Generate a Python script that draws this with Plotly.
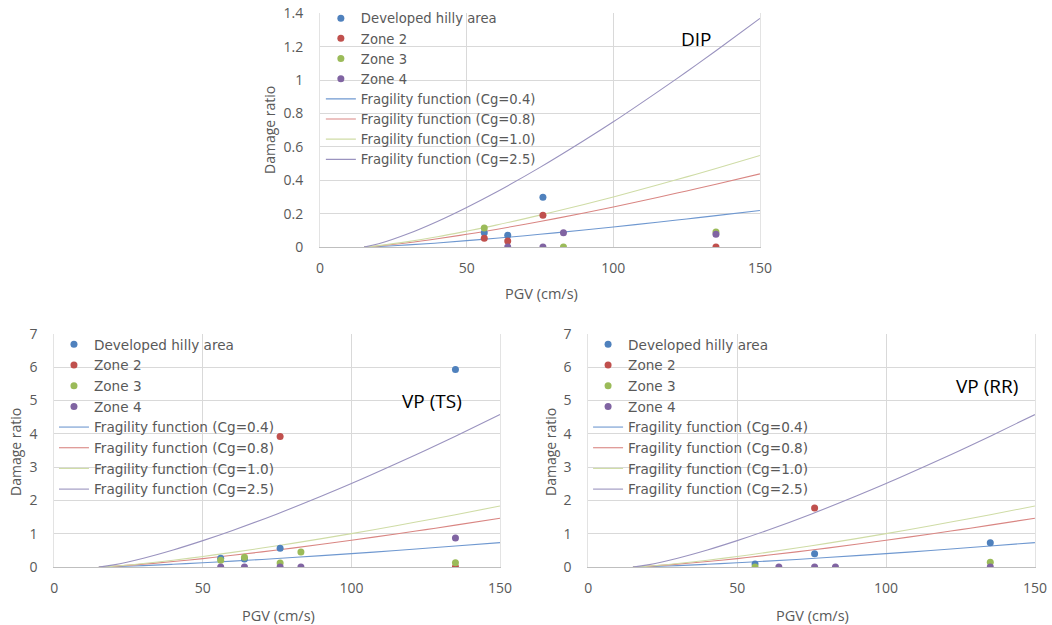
import plotly.graph_objects as go

# ---------------- data ----------------
pgv_curve = [15, 20, 30, 40, 50, 60, 75, 90, 100, 115, 125, 135, 150]

dip_cg04 = [0, 0.003, 0.013, 0.024, 0.038, 0.052, 0.076, 0.102, 0.12, 0.148, 0.168, 0.188, 0.219]
dip_cg08 = [0, 0.006, 0.025, 0.049, 0.076, 0.105, 0.153, 0.204, 0.24, 0.297, 0.336, 0.376, 0.438]
dip_cg10 = [0, 0.008, 0.032, 0.061, 0.095, 0.131, 0.191, 0.255, 0.30, 0.371, 0.42, 0.47, 0.548]
dip_cg25 = [0, 0.019, 0.079, 0.153, 0.237, 0.328, 0.477, 0.638, 0.75, 0.928, 1.05, 1.176, 1.37]

vp_cg04 = [0, 0.01, 0.042, 0.082, 0.127, 0.176, 0.255, 0.341, 0.401, 0.496, 0.562, 0.629, 0.733]
vp_cg08 = [0, 0.02, 0.085, 0.164, 0.253, 0.351, 0.51, 0.683, 0.802, 0.993, 1.123, 1.258, 1.466]
vp_cg10 = [0, 0.025, 0.106, 0.204, 0.317, 0.439, 0.638, 0.853, 1.003, 1.241, 1.404, 1.572, 1.832]
vp_cg25 = [0, 0.063, 0.264, 0.511, 0.792, 1.097, 1.595, 2.133, 2.507, 3.102, 3.51, 3.931, 4.58]

# DIP observations
dip_dev_x = [56, 64, 76]
dip_dev_y = [0.086, 0.07, 0.298]
dip_z2_x = [56, 64, 76, 135]
dip_z2_y = [0.052, 0.036, 0.19, 0.0]
dip_z3_x = [56, 83, 135]
dip_z3_y = [0.114, 0.0, 0.09]
dip_z4_x = [64, 76, 83, 135]
dip_z4_y = [0.0, 0.0, 0.086, 0.076]

# VP (TS) observations
ts_dev_x = [56, 64, 76, 135]
ts_dev_y = [0.26, 0.24, 0.56, 5.93]
ts_z2_x = [76, 135]
ts_z2_y = [3.92, 0.0]
ts_z3_x = [56, 64, 76, 83, 135]
ts_z3_y = [0.2, 0.29, 0.12, 0.45, 0.13]
ts_z4_x = [56, 64, 76, 83, 135]
ts_z4_y = [0.0, 0.0, 0.0, 0.0, 0.87]

# VP (RR) observations
rr_dev_x = [56, 76, 135]
rr_dev_y = [0.09, 0.4, 0.73]
rr_z2_x = [76]
rr_z2_y = [1.77]
rr_z3_x = [56, 135]
rr_z3_y = [0.0, 0.14]
rr_z4_x = [64, 76, 83, 135]
rr_z4_y = [0.0, 0.0, 0.0, 0.0]

series_names = ["Developed hilly area", "Zone 2", "Zone 3", "Zone 4"]
curve_names = ["Fragility function (Cg=0.4)", "Fragility function (Cg=0.8)",
               "Fragility function (Cg=1.0)", "Fragility function (Cg=2.5)"]
panel_labels = ["DIP", "VP (TS)", "VP (RR)"]
x_ticks = [0, 50, 100, 150]

# ---------------- style ----------------
dot_colors = ["#4F81BD", "#C0504D", "#9BBB59", "#8064A2"]
line_colors = ["#6f98d0", "#d98683", "#cfdca6", "#9a93bf"]
FONT = "Open Sans, sans-serif"
LEGFONT = "DejaVu Sans, sans-serif"
GRAY = "#595959"

fig = go.Figure()

panels = [
    dict(xa="x", ya="y", leg="legend",
         curves=[dip_cg04, dip_cg08, dip_cg10, dip_cg25],
         obs=[(dip_dev_x, dip_dev_y), (dip_z2_x, dip_z2_y), (dip_z3_x, dip_z3_y), (dip_z4_x, dip_z4_y)]),
    dict(xa="x2", ya="y2", leg="legend2",
         curves=[vp_cg04, vp_cg08, vp_cg10, vp_cg25],
         obs=[(ts_dev_x, ts_dev_y), (ts_z2_x, ts_z2_y), (ts_z3_x, ts_z3_y), (ts_z4_x, ts_z4_y)]),
    dict(xa="x3", ya="y3", leg="legend3",
         curves=[vp_cg04, vp_cg08, vp_cg10, vp_cg25],
         obs=[(rr_dev_x, rr_dev_y), (rr_z2_x, rr_z2_y), (rr_z3_x, rr_z3_y), (rr_z4_x, rr_z4_y)]),
]

for p in panels:
    for i, (name, ys) in enumerate(zip(curve_names, p["curves"])):
        fig.add_trace(go.Scatter(
            x=pgv_curve, y=ys, mode="lines", name=name,
            line=dict(color=line_colors[i], width=1.1, shape="spline"),
            xaxis=p["xa"], yaxis=p["ya"], legend=p["leg"], legendrank=10 + i,
        ))
    for i, (name, (xs, ys)) in enumerate(zip(series_names, p["obs"])):
        fig.add_trace(go.Scatter(
            x=xs, y=ys, mode="markers", name=name,
            marker=dict(color=dot_colors[i], size=7),
            xaxis=p["xa"], yaxis=p["ya"], legend=p["leg"], legendrank=1 + i,
        ))

axis_common = dict(
    showgrid=True, gridcolor="#d9d9d9", gridwidth=1, zeroline=False,
    tickfont=dict(family=FONT, size=14, color=GRAY), ticks="",
)

doms = {
    "1": dict(x=[0.3042, 0.7224], y=[0.6048, 0.9787], yr=[0, 1.4], dt=0.2),
    "2": dict(x=[0.0516, 0.4753], y=[0.0928, 0.4656], yr=[0, 7], dt=1),
    "3": dict(x=[0.5592, 0.9838], y=[0.0928, 0.4656], yr=[0, 7], dt=1),
}
layout_axes = {}
for k, d in doms.items():
    sx = "" if k == "1" else k
    layout_axes["xaxis" + sx] = dict(
        axis_common, domain=d["x"], range=[0, 150], tickvals=x_ticks,
        anchor="y" + sx, showline=True, linecolor="#bfbfbf", linewidth=1,
        ticklabelstandoff=8, automargin=False,
    )
    layout_axes["yaxis" + sx] = dict(
        axis_common, domain=d["y"], range=d["yr"], dtick=d["dt"],
        anchor="x" + sx, showline=True, linecolor="#e3e3e3", mirror=True,
        ticklabelstandoff=13, automargin=False,
    )
fig.update_layout(**layout_axes)

leg_common = dict(
    bgcolor="rgba(0,0,0,0)", borderwidth=0, xanchor="left", yanchor="top",
    traceorder="normal", itemwidth=30,
)
fig.update_layout(
    legend=dict(leg_common, x=0.305, y=0.995, font=dict(family=LEGFONT, size=13.2, color=GRAY)),
    legend2=dict(leg_common, x=0.0513, y=0.4736, font=dict(family=LEGFONT, size=13.6, color=GRAY)),
    legend3=dict(leg_common, x=0.559, y=0.4736, font=dict(family=LEGFONT, size=13.6, color=GRAY)),
)

ann = []
# panel labels
for (xp, yp), txt in zip([(696, 39), (432, 401), (987, 386)], panel_labels):
    ann.append(dict(x=xp / 1052, y=1 - yp / 625, xref="paper", yref="paper", text=txt,
                    xanchor="center", yanchor="middle",
                    showarrow=False, font=dict(family=FONT, size=19, color="#000000")))
# axis titles
for xp, yp in [(270, 130), (16, 452), (551, 452)]:
    ann.append(dict(x=xp / 1052, y=1 - yp / 625, xref="paper", yref="paper", text="Damage ratio",
                    xanchor="center", yanchor="middle",
                    textangle=-90, showarrow=False, font=dict(family=FONT, size=14, color=GRAY)))
for xp, yp in [(541, 293), (278, 615), (812, 615)]:
    ann.append(dict(x=xp / 1052, y=1 - yp / 625, xref="paper", yref="paper", text="PGV (cm/s)",
                    xanchor="center", yanchor="middle",
                    showarrow=False, font=dict(family=FONT, size=14.5, color=GRAY)))

fig.update_layout(
    width=1052, height=625, margin=dict(l=0, r=0, t=0, b=0, autoexpand=False),
    paper_bgcolor="white", plot_bgcolor="white", showlegend=True,
    annotations=ann, font=dict(family=FONT, color=GRAY),
)

fig.write_html("out.html", config={"displayModeBar": False},
               post_script="document.body.style.margin='0px';document.body.style.overflow='hidden';")
